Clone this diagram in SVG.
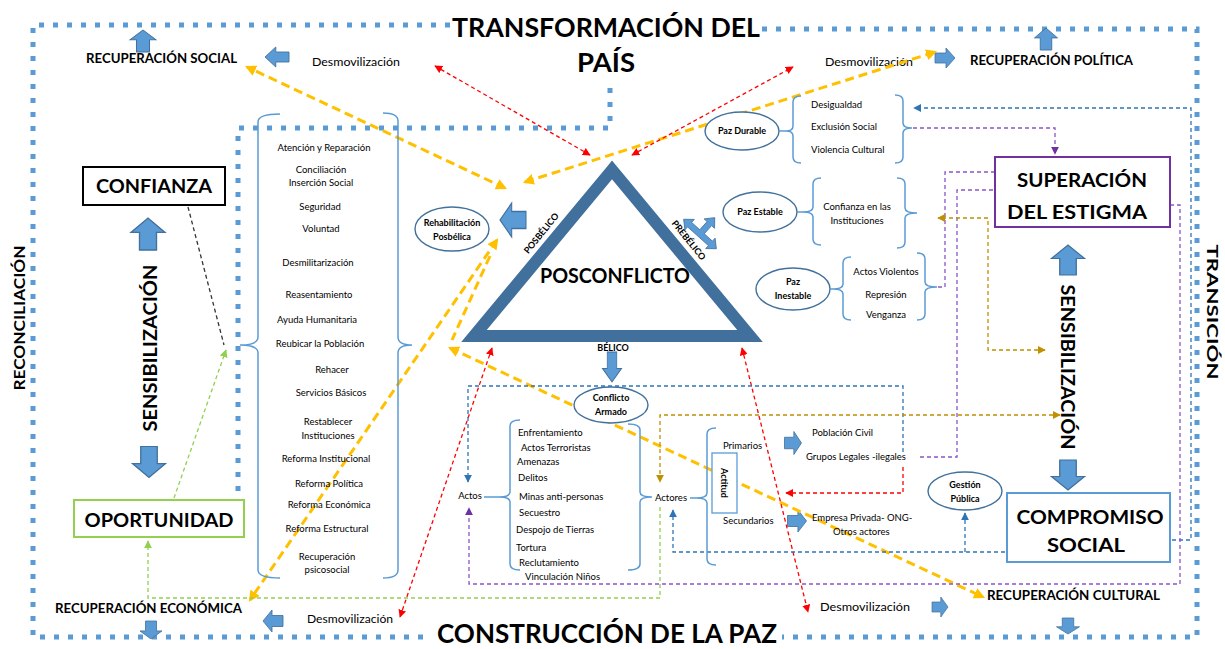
<svg xmlns="http://www.w3.org/2000/svg" width="1225" height="649" viewBox="0 0 1225 649">
<style>
text{font-family:Lato,"Liberation Sans",sans-serif;fill:#000}
.big{font-size:27px;font-weight:700}
.lab{font-size:12.5px;font-weight:700}
.dm{font-size:11px}
.box{font-size:19px;font-weight:700}
.vt{font-size:16px;font-weight:700}
.s{font-size:9.5px}
.sb{font-size:9px;font-weight:700}
.dot{fill:none;stroke:#5B9BD5;stroke-width:5;stroke-dasharray:5 9}
.br{fill:none;stroke:#5B9BD5;stroke-width:1.5}
.el{fill:#fff;stroke:#41719C;stroke-width:1.4}
.blk{fill:#5B9BD5;stroke:#41719C;stroke-width:0.8}
.d{fill:none;stroke-width:1.3;stroke-dasharray:4 3}
.red{stroke:#FF0000}
.blu{stroke:#2E75B6}
.pur{stroke:#8A55C8}
.gld{stroke:#BF9000}
.grn{stroke:#92D050}
.blk2{stroke:#333}
.yel{fill:none;stroke:#FFC000;stroke-width:3;stroke-dasharray:9 5}
</style>
<defs>
<path id="ba" d="M-10,-5 H1 V-10 L10,0 L1,10 V5 H-10 Z"/>
<marker id="mR" viewBox="0 0 10 10" refX="9" refY="5" markerWidth="8" markerHeight="8" markerUnits="userSpaceOnUse" orient="auto-start-reverse"><path d="M0,0 L10,5 L0,10 Z" fill="#FF0000"/></marker>
<marker id="mB" viewBox="0 0 10 10" refX="9" refY="5" markerWidth="8" markerHeight="8" markerUnits="userSpaceOnUse" orient="auto-start-reverse"><path d="M0,0 L10,5 L0,10 Z" fill="#2E75B6"/></marker>
<marker id="mP" viewBox="0 0 10 10" refX="9" refY="5" markerWidth="8" markerHeight="8" markerUnits="userSpaceOnUse" orient="auto-start-reverse"><path d="M0,0 L10,5 L0,10 Z" fill="#7030A0"/></marker>
<marker id="mG" viewBox="0 0 10 10" refX="9" refY="5" markerWidth="8" markerHeight="8" markerUnits="userSpaceOnUse" orient="auto-start-reverse"><path d="M0,0 L10,5 L0,10 Z" fill="#BF9000"/></marker>
<marker id="mN" viewBox="0 0 10 10" refX="9" refY="5" markerWidth="8" markerHeight="8" markerUnits="userSpaceOnUse" orient="auto-start-reverse"><path d="M0,0 L10,5 L0,10 Z" fill="#92D050"/></marker>
<marker id="mY" viewBox="0 0 10 10" refX="8" refY="5" markerWidth="11" markerHeight="11" markerUnits="userSpaceOnUse" orient="auto-start-reverse"><path d="M0,0 L10,5 L0,10 Z" fill="#FFC000"/></marker>
</defs>
<rect width="1225" height="649" fill="#fff"/>

<g id="frame">
<path class="dot" d="M450,25 H33 V637 H432"/>
<path class="dot" d="M762,29 H1197 V637 H782"/>
<path class="dot" d="M610,88 V128 H238 V500"/>
<text class="big" x="606" y="37" text-anchor="middle" textLength="308" lengthAdjust="spacingAndGlyphs">TRANSFORMACIÓN  DEL</text>
<text class="big" x="606" y="72" text-anchor="middle" textLength="58" lengthAdjust="spacingAndGlyphs">PAÍS</text>
<text class="big" x="607" y="643" text-anchor="middle" textLength="340" lengthAdjust="spacingAndGlyphs">CONSTRUCCIÓN DE LA PAZ</text>
<text class="vt" transform="translate(18,318) rotate(-90)" text-anchor="middle" dominant-baseline="central" textLength="145" lengthAdjust="spacingAndGlyphs">RECONCILIACIÓN</text>
<text class="vt" transform="translate(1213,312) rotate(90)" text-anchor="middle" dominant-baseline="central" textLength="135" lengthAdjust="spacingAndGlyphs">TRANSICIÓN</text>
</g>

<g id="recuperaciones">
<text class="lab" x="86" y="63" textLength="151" lengthAdjust="spacingAndGlyphs">RECUPERACIÓN  SOCIAL</text>
<text class="dm" x="312" y="66" textLength="88" lengthAdjust="spacingAndGlyphs">Desmovilización</text>
<text class="dm" x="825" y="66" textLength="88" lengthAdjust="spacingAndGlyphs">Desmovilización</text>
<text class="lab" x="970" y="65" textLength="163" lengthAdjust="spacingAndGlyphs">RECUPERACIÓN  POLÍTICA</text>
<text class="lab" x="55" y="613" textLength="187" lengthAdjust="spacingAndGlyphs">RECUPERACIÓN  ECONÓMICA</text>
<text class="dm" x="307" y="623" textLength="86" lengthAdjust="spacingAndGlyphs">Desmovilización</text>
<text class="dm" x="820" y="611" textLength="90" lengthAdjust="spacingAndGlyphs">Desmovilización</text>
<text class="lab" x="987" y="600" textLength="173" lengthAdjust="spacingAndGlyphs">RECUPERACIÓN  CULTURAL</text>
</g>

<g id="block-arrows">
<use href="#ba" class="blk" transform="translate(143,41) rotate(-90) scale(1.1,1.3)"/>
<use href="#ba" class="blk" transform="translate(277,57) rotate(180) scale(1.2,1)"/>
<use href="#ba" class="blk" transform="translate(945,58) scale(1,1)"/>
<use href="#ba" class="blk" transform="translate(1046,39) rotate(-90) scale(1.1,1.15)"/>
<use href="#ba" class="blk" transform="translate(513,220) rotate(180) scale(1.3,1.7)"/>
<use href="#ba" class="blk" transform="translate(612,367) rotate(90) scale(1.5,0.95)"/>
<use href="#ba" class="blk" transform="translate(793,443) scale(0.85,1.15)"/>
<use href="#ba" class="blk" transform="translate(797,521) scale(0.95,1.1)"/>
<use href="#ba" class="blk" transform="translate(148,234) rotate(-90) scale(1.6,1.7)"/>
<use href="#ba" class="blk" transform="translate(149,462) rotate(90) scale(1.55,1.65)"/>
<use href="#ba" class="blk" transform="translate(1068,260) rotate(-90) scale(1.5,1.65)"/>
<use href="#ba" class="blk" transform="translate(1068,475) rotate(90) scale(1.5,1.65)"/>
<use href="#ba" class="blk" transform="translate(273,621) rotate(180) scale(1,1.1)"/>
<use href="#ba" class="blk" transform="translate(151,630) rotate(90) scale(0.9,1.1)"/>
<use href="#ba" class="blk" transform="translate(940,607) scale(0.8,1)"/>
<use href="#ba" class="blk" transform="translate(1068,626) rotate(90) scale(0.8,1.15)"/>
<path class="blk" transform="translate(700,234) rotate(42)" d="M-22,0 L-14,-7 L-14,-3 L-3,-3 L-3,-14 L-7,-14 L0,-22 L7,-14 L3,-14 L3,-3 L14,-3 L14,-7 L22,0 L14,7 L14,3 L-14,3 L-14,7 Z"/>
</g>

<g id="connectors">
<path class="yel" d="M505,188 L247,67" marker-start="url(#mY)" marker-end="url(#mY)"/>
<path class="yel" d="M525,182 L935,52" marker-start="url(#mY)" marker-end="url(#mY)"/>
<path class="yel" d="M497,240 L250,600" marker-start="url(#mY)" marker-end="url(#mY)"/>
<path class="yel" d="M490,256 L452,340"/>
<path class="yel" d="M450,348 L983,597" marker-start="url(#mY)" marker-end="url(#mY)"/>
<path class="d red" d="M590,155 L435,66" marker-start="url(#mR)" marker-end="url(#mR)"/>
<path class="d red" d="M632,155 L793,67" marker-start="url(#mR)" marker-end="url(#mR)"/>
<path class="d red" d="M492,348 L400,617" marker-start="url(#mR)" marker-end="url(#mR)"/>
<path class="d red" d="M742,348 L808,612" marker-start="url(#mR)" marker-end="url(#mR)"/>
<path class="d red" d="M903,467 V493 H786" marker-end="url(#mR)"/>
<path class="d blu" d="M903,452 V386 H468 V482" marker-end="url(#mB)"/>
<path class="d blu" d="M1172,540 H1191 V108 H914" marker-end="url(#mB)"/>
<path class="d blu" d="M1005,552 H673 V510" marker-end="url(#mB)"/>
<path class="d blu" d="M965,552 V513" marker-end="url(#mB)"/>
<path class="d pur" d="M913,128 H1055 V154" marker-end="url(#mP)"/>
<path class="d pur" d="M995,172 H945 V287 H936"/>
<path class="d pur" d="M920,457 H957 V190 H995"/>
<path class="d pur" d="M1170,205 H1180 V584 H469 V508" marker-end="url(#mP)"/>
<path class="d gld" d="M1045,350 H988 V218 H938" marker-start="url(#mG)" marker-end="url(#mG)"/>
<path class="d gld" d="M1060,415 H660 V482" marker-start="url(#mG)" marker-end="url(#mG)"/>
<path class="d grn" d="M174,498 L226,350" marker-end="url(#mN)"/>
<path class="d grn" d="M660,507 V598 H148 V541" marker-end="url(#mN)"/>
<path class="d blk2" d="M188,207 L224,345"/>
</g>

<g id="confianza">
<rect x="83" y="167" width="142" height="38" fill="#fff" stroke="#000" stroke-width="2"/>
<text class="box" x="154" y="193" text-anchor="middle" textLength="116" lengthAdjust="spacingAndGlyphs">CONFIANZA</text>
</g>
<g id="sensibilizacion-izq">
<text class="box" transform="translate(149,348) rotate(-90)" text-anchor="middle" dominant-baseline="central" textLength="167" lengthAdjust="spacingAndGlyphs">SENSIBILIZACIÓN</text>
</g>
<g id="oportunidad">
<rect x="74" y="500" width="170" height="37" fill="#fff" stroke="#92D050" stroke-width="2"/>
<text class="box" x="159" y="527" text-anchor="middle" textLength="149" lengthAdjust="spacingAndGlyphs">OPORTUNIDAD</text>
</g>

<g id="lista-reconstruccion">
<path class="br" d="M280,114 Q258,114 258,122 V337 Q258,345 240,345 Q258,345 258,353 V570 Q258,578 280,578"/>
<path class="br" d="M383,113 Q398,113 398,121 V337 Q398,345 412,345 Q398,345 398,353 V570 Q398,578 383,578"/>
<g class="s" text-anchor="middle">
<text x="324" y="151">Atención y Reparación</text>
<text x="321" y="173">Conciliación</text>
<text x="321" y="186">Inserción  Social</text>
<text x="320" y="210">Seguridad</text>
<text x="321" y="232">Voluntad</text>
<text x="318" y="266">Desmilitarización</text>
<text x="319" y="298">Reasentamiento</text>
<text x="317" y="323">Ayuda Humanitaria</text>
<text x="320" y="347">Reubicar  la Población</text>
<text x="332" y="373">Rehacer</text>
<text x="331" y="396">Servicios Básicos</text>
<text x="328" y="425">Restablecer</text>
<text x="328" y="439">Instituciones</text>
<text x="326" y="462">Reforma  Institucional</text>
<text x="329" y="487">Reforma  Política</text>
<text x="329" y="508">Reforma  Económica</text>
<text x="327" y="532">Reforma  Estructural</text>
<text x="327" y="560">Recuperación</text>
<text x="327" y="573">psicosocial</text>
</g>
</g>

<g id="posconflicto">
<polygon points="612,170 474,336 750,336" fill="#fff" stroke="#41709C" stroke-width="12"/>
<text x="615" y="283" font-size="21" font-weight="700" text-anchor="middle" textLength="150" lengthAdjust="spacingAndGlyphs">POSCONFLICTO</text>
<text class="sb" font-size="8" transform="translate(541,233) rotate(-51)" text-anchor="middle" dominant-baseline="central">POSBÉLICO</text>
<text class="sb" font-size="8" transform="translate(689,240) rotate(51)" text-anchor="middle" dominant-baseline="central">PREBÉLICO</text>
<text class="sb" font-size="8" x="613" y="351" text-anchor="middle">BÉLICO</text>
</g>

<g id="rehabilitacion">
<ellipse class="el" cx="452" cy="229" rx="37" ry="22"/>
<text class="sb" x="452" y="226" text-anchor="middle">Rehabilitación</text>
<text class="sb" x="452" y="240" text-anchor="middle">Posbélica</text>
</g>

<g id="paz-durable">
<ellipse class="el" cx="742" cy="131" rx="37" ry="19"/>
<text class="sb" x="742" y="134" text-anchor="middle">Paz Durable</text>
<path class="br" d="M779,131 H786 M801,96 Q793,96 793,102 V126 Q793,131 786,131 Q793,131 793,136 V157 Q793,163 801,163"/>
<path class="br" d="M895,95 Q903,95 903,101 V123 Q903,128 912,128 Q903,128 903,133 V157 Q903,163 895,163"/>
<g class="s" font-size="9">
<text x="811" y="108">Desigualdad</text>
<text x="811" y="130">Exclusión  Social</text>
<text x="811" y="153">Violencia  Cultural</text>
</g>
</g>

<g id="paz-estable">
<ellipse class="el" cx="760" cy="212" rx="37" ry="20"/>
<text class="sb" x="760" y="215" text-anchor="middle">Paz Estable</text>
<path class="br" d="M797,212 H803 M821,178 Q813,178 813,184 V207 Q813,212 803,212 Q813,212 813,217 V239 Q813,245 821,245"/>
<path class="br" d="M897,178 Q905,178 905,184 V208 Q905,213 917,213 Q905,213 905,218 V242 Q905,248 897,248"/>
<g class="s" font-size="9" text-anchor="middle">
<text x="857" y="210">Confianza  en las</text>
<text x="857" y="224">Instituciones</text>
</g>
</g>

<g id="paz-inestable">
<ellipse class="el" cx="793" cy="289" rx="37" ry="21"/>
<text class="sb" x="793" y="285" text-anchor="middle">Paz</text>
<text class="sb" x="793" y="299" text-anchor="middle">Inestable</text>
<path class="br" d="M830,289 H833 M851,257 Q843,257 843,263 V284 Q843,289 833,289 Q843,289 843,294 V314 Q843,320 851,320"/>
<path class="br" d="M917,253 Q925,253 925,259 V282 Q925,287 937,287 Q925,287 925,292 V314 Q925,320 917,320"/>
<g class="s" font-size="9" text-anchor="middle">
<text x="886" y="275">Actos  Violentos</text>
<text x="886" y="298">Represión</text>
<text x="886" y="318">Venganza</text>
</g>
</g>

<g id="conflicto-armado">
<ellipse class="el" cx="611" cy="405" rx="37" ry="18"/>
<text class="sb" x="611" y="401" text-anchor="middle">Conflicto</text>
<text class="sb" x="611" y="415" text-anchor="middle">Armado</text>
<text class="s" x="470" y="499" text-anchor="middle">Actos</text>
<path class="br" d="M484,497 H499 M520,420 Q510,420 510,426 V492 Q510,497 499,497 Q510,497 510,502 V564 Q510,570 520,570"/>
<path class="br" d="M628,424 Q640,424 640,430 V492 Q640,497 652,497 Q640,497 640,502 V564 Q640,570 628,570"/>
<g class="s" font-size="9.8">
<text x="518" y="436">Enfrentamiento</text>
<text x="521" y="451">Actos  Terroristas</text>
<text x="517" y="465">Amenazas</text>
<text x="518" y="481">Delitos</text>
<text x="519" y="500">Minas  anti-personas</text>
<text x="519" y="516">Secuestro</text>
<text x="516" y="533">Despojo  de Tierras</text>
<text x="516" y="551">Tortura</text>
<text x="519" y="566">Reclutamiento</text>
<text x="525" y="580">Vinculación  Niños</text>
</g>
</g>

<g id="actores">
<text class="s" x="655" y="501">Actores</text>
<path class="br" d="M690,498 H696 M716,428 Q707,428 707,434 V493 Q707,498 696,498 Q707,498 707,503 V559 Q707,565 716,565"/>
<rect x="712" y="453" width="25" height="60" fill="#fff" stroke="#5B9BD5" stroke-width="1.3"/>
<text class="sb" font-size="10" transform="translate(724.5,483) rotate(90)" text-anchor="middle" dominant-baseline="central">Actitud</text>
<g class="s" font-size="9.5">
<text x="723" y="449">Primarios</text>
<text x="723" y="524">Secundarios</text>
<text x="812" y="436">Población  Civil</text>
<text x="806" y="460">Grupos  Legales -ilegales</text>
<text x="812" y="521">Empresa  Privada- ONG-</text>
<text x="833" y="535">Otros  actores</text>
</g>
</g>

<g id="gestion-publica">
<ellipse class="el" cx="965" cy="491" rx="37" ry="19"/>
<text class="sb" x="965" y="488" text-anchor="middle">Gestión</text>
<text class="sb" x="965" y="502" text-anchor="middle">Pública</text>
</g>

<g id="superacion">
<rect x="995" y="157" width="175" height="70" fill="#fff" stroke="#7030A0" stroke-width="2"/>
<text class="box" x="1082" y="187" text-anchor="middle" textLength="130" lengthAdjust="spacingAndGlyphs">SUPERACIÓN</text>
<text class="box" x="1077" y="219" text-anchor="middle" textLength="140" lengthAdjust="spacingAndGlyphs">DEL ESTIGMA</text>
</g>
<g id="sensibilizacion-der">
<text class="box" transform="translate(1068,367) rotate(90)" text-anchor="middle" dominant-baseline="central" textLength="165" lengthAdjust="spacingAndGlyphs">SENSIBILIZACIÓN</text>
</g>
<g id="compromiso">
<rect x="1007" y="493" width="163" height="69" fill="#fff" stroke="#5B9BD5" stroke-width="2"/>
<text class="box" x="1090" y="524" text-anchor="middle" textLength="147" lengthAdjust="spacingAndGlyphs">COMPROMISO</text>
<text class="box" x="1086" y="552" text-anchor="middle" textLength="78" lengthAdjust="spacingAndGlyphs">SOCIAL</text>
</g>
</svg>
